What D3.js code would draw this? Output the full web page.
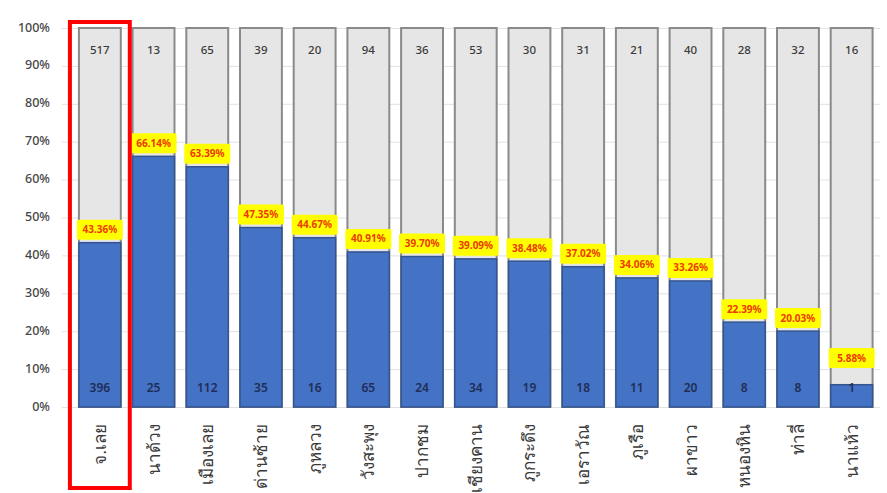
<!DOCTYPE html>
<html>
<head>
<meta charset="utf-8">
<script src="https://cdn.jsdelivr.net/npm/d3@7"></script>
<style>
  html, body { margin: 0; padding: 0; background: #fff; }
  svg { display: block; font-family: "Noto Sans", "DejaVu Sans", sans-serif; }
</style>
</head>
<body>
<svg id="chart" width="887" height="493"></svg>
<script>
const categories = ["จ.เลย", "นาด้วง", "เมืองเลย", "ด่านซ้าย", "ภูหลวง", "วังสะพุง", "ปากชม", "เชียงคาน", "ภูกระดึง", "เอราวัณ", "ภูเรือ", "ผาขาว", "หนองหิน", "ท่าลี่", "นาแห้ว"];
const lowerCounts = [396, 25, 112, 35, 16, 65, 24, 34, 19, 18, 11, 20, 8, 8, 1];
const upperCounts = [517, 13, 65, 39, 20, 94, 36, 53, 30, 31, 21, 40, 28, 32, 16];
const percentValues = [43.36, 66.14, 63.39, 47.35, 44.67, 40.91, 39.70, 39.09, 38.48, 37.02, 34.06, 33.26, 22.39, 20.03, 5.88];
const yTicks = [0, 10, 20, 30, 40, 50, 60, 70, 80, 90, 100];
const highlighted = ["จ.เลย"];

const svg = d3.select("#chart");
const x = d3.scaleBand().domain(categories).range([73, 878.5]).paddingInner(0.22).paddingOuter(0.11);
const y = d3.scaleLinear().domain([0, 100]).range([407, 28]);
const bw = x.bandwidth();

// gridlines
svg.append("g").selectAll("line").data(yTicks).join("line")
  .attr("x1", 62).attr("x2", 880)
  .attr("y1", d => y(d) + 0.5).attr("y2", d => y(d) + 0.5)
  .attr("stroke", "#e2e2e2").attr("stroke-width", 1);

// y axis labels
const yAxis = d3.axisLeft(y).tickValues(yTicks).tickFormat(d => d + "%").tickSize(0).tickPadding(0);
const ga = svg.append("g").attr("transform", "translate(50,-1)").call(yAxis);
ga.select(".domain").remove();
ga.selectAll("text").attr("font-size", 12.5).attr("fill", "#474747").attr("font-weight", 500)
  .attr("font-family", "'Noto Sans', sans-serif");

const data = categories.map((c, i) => ({c, lo: lowerCounts[i], up: upperCounts[i], p: percentValues[i]}));

// gray full bars
svg.append("g").selectAll("rect").data(data).join("rect")
  .attr("x", d => x(d.c)).attr("y", y(100))
  .attr("width", bw).attr("height", y(0) - y(100))
  .attr("fill", "#e6e6e6").attr("stroke", "#8a8a8a").attr("stroke-width", 2);

// blue bars
svg.append("g").selectAll("rect").data(data).join("rect")
  .attr("x", d => x(d.c)).attr("y", d => y(d.p))
  .attr("width", bw).attr("height", d => y(0) - y(d.p))
  .attr("fill", "#4472c4").attr("stroke", "#34558f").attr("stroke-width", 1.5);

// top counts
svg.append("g").selectAll("text").data(data).join("text")
  .attr("x", d => x(d.c) + bw / 2).attr("y", 54)
  .attr("text-anchor", "middle").attr("font-size", 11.5).attr("font-weight", 500).attr("fill", "#3a3a3a")
  .text(d => d.up);

// bottom counts
svg.append("g").selectAll("text").data(data).join("text")
  .attr("x", d => x(d.c) + bw / 2).attr("y", 392)
  .attr("text-anchor", "middle").attr("font-size", 12).attr("font-weight", 600).attr("fill", "#1f2d57")
  .text(d => d.lo);

// percent labels
const lab = svg.append("g").selectAll("g").data(data).join("g")
  .attr("transform", d => {
    const bottom = Math.min(y(d.p) - 3, 368);
    return `translate(${x(d.c) + bw / 2},${bottom - 10})`;
  });
lab.append("rect").attr("x", -23).attr("y", -10).attr("width", 46).attr("height", 20)
  .attr("fill", "#ffff00").attr("rx", 2);
lab.append("text").attr("text-anchor", "middle").attr("dy", "0.35em")
  .attr("font-size", 10).attr("font-weight", "bold").attr("fill", "#ee3a00")
  .text(d => d.p.toFixed(2) + "%");

// category labels (rotated)
svg.append("g").selectAll("text").data(data).join("text")
  .attr("transform", d => `translate(${x(d.c) + bw / 2 + 6},424) rotate(-90)`)
  .attr("text-anchor", "end").attr("font-size", 17).attr("fill", "#3a3a3a")
  .text(d => d.c);

// highlight box
svg.append("g").selectAll("rect").data(highlighted).join("rect")
  .attr("x", d => x(d) - 9).attr("y", 22)
  .attr("width", bw + 18).attr("height", 466)
  .attr("fill", "none").attr("stroke", "#ff0000").attr("stroke-width", 4);
</script>
</body>
</html>
